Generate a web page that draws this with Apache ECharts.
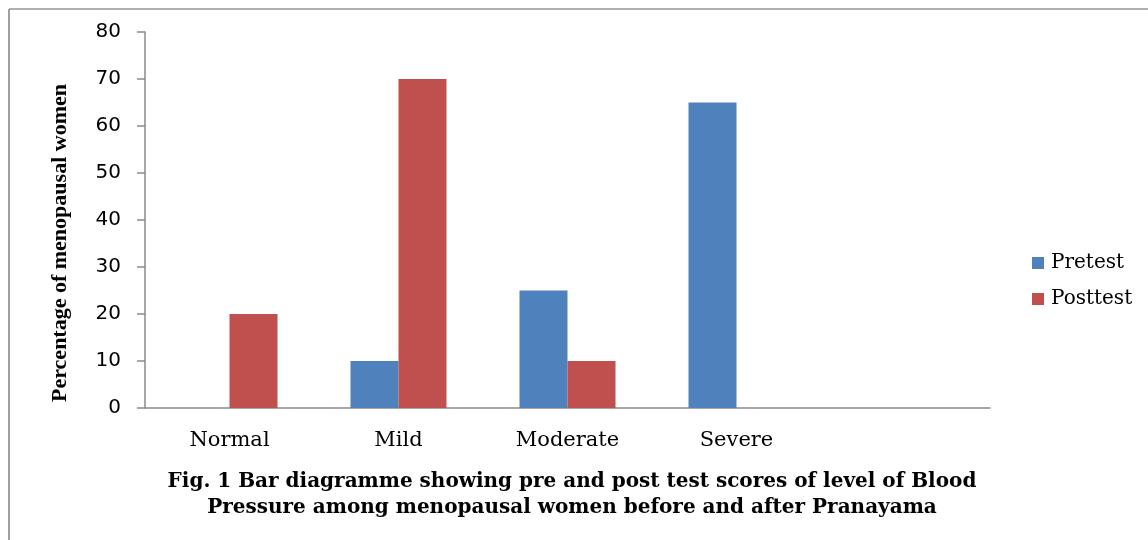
<!DOCTYPE html>
<html>
<head>
<meta charset="utf-8">
<script src="https://cdn.jsdelivr.net/npm/echarts@6/dist/echarts.min.js"></script>
<style>html,body{margin:0;padding:0;background:#fff;}#c{width:1148px;height:540px;}</style>
</head>
<body>
<div id="c"></div>
<script>
const categories = ['Normal', 'Mild', 'Moderate', 'Severe', ''];
const pretest = [0, 10, 25, 65, null];
const posttest = [20, 70, 10, 0, null];
const yTicks = { min: 0, max: 80, interval: 10 };
const seriesNames = ['Pretest', 'Posttest'];
const yTitle = 'Percentage of menopausal women';
const caption = 'Fig. 1 Bar diagramme showing pre and post test scores of level of Blood\nPressure among menopausal women before and after Pranayama';

const chart = echarts.init(document.getElementById('c'), null, { renderer: 'canvas' });
const axisGray = '#8a8a8a';
chart.setOption({
  animation: false,
  backgroundColor: '#fff',
  title: {
    text: caption,
    left: 567,
    top: 464,
    textAlign: 'center',
    textStyle: { fontFamily: 'DejaVu Serif', fontWeight: 'bold', fontSize: 20, lineHeight: 26, color: '#000' }
  },
  legend: {
    orient: 'vertical',
    left: 1027,
    top: 248,
    itemWidth: 12,
    itemHeight: 12,
    itemGap: 16,
    icon: 'rect',
    textStyle: { fontFamily: 'DejaVu Serif', fontSize: 20, color: '#000', padding: [0, 0, 0, 2] },
    data: seriesNames
  },
  grid: { left: 145, right: 158, top: 32, bottom: 132, containLabel: false },
  xAxis: {
    type: 'category',
    data: categories,
    axisLine: { lineStyle: { color: axisGray, width: 1.5 } },
    axisTick: { show: false },
    axisLabel: { fontFamily: 'DejaVu Serif', fontSize: 21, color: '#000', margin: 22, interval: 0 }
  },
  yAxis: {
    type: 'value',
    min: yTicks.min,
    max: yTicks.max,
    interval: yTicks.interval,
    axisLine: { show: true, lineStyle: { color: axisGray, width: 1.5 } },
    axisTick: { show: true, length: 8, lineStyle: { color: axisGray, width: 1.5 } },
    axisLabel: { fontFamily: 'DejaVu Sans', fontSize: 20, color: '#000', margin: 24 },
    splitLine: { show: false }
  },
  series: [
    { name: seriesNames[0], type: 'bar', data: pretest, barWidth: 48, barGap: '0%', itemStyle: { color: '#4F81BD' } },
    { name: seriesNames[1], type: 'bar', data: posttest, barWidth: 48, barGap: '0%', itemStyle: { color: '#C0504D' } }
  ],
  graphic: [
    { type: 'line', shape: { x1: 9, y1: 9, x2: 1148, y2: 9 }, style: { stroke: '#b0b0b0', lineWidth: 2 } },
    { type: 'line', shape: { x1: 9, y1: 9, x2: 9, y2: 540 }, style: { stroke: '#a0a0a0', lineWidth: 2 } },
    {
      type: 'text', x: 60, y: 243, rotation: Math.PI / 2,
      style: { text: yTitle, fontFamily: 'Liberation Serif', fontWeight: 'bold', fontSize: 22, fill: '#000', align: 'center', verticalAlign: 'middle' }
    }
  ]
});
</script>
</body>
</html>
